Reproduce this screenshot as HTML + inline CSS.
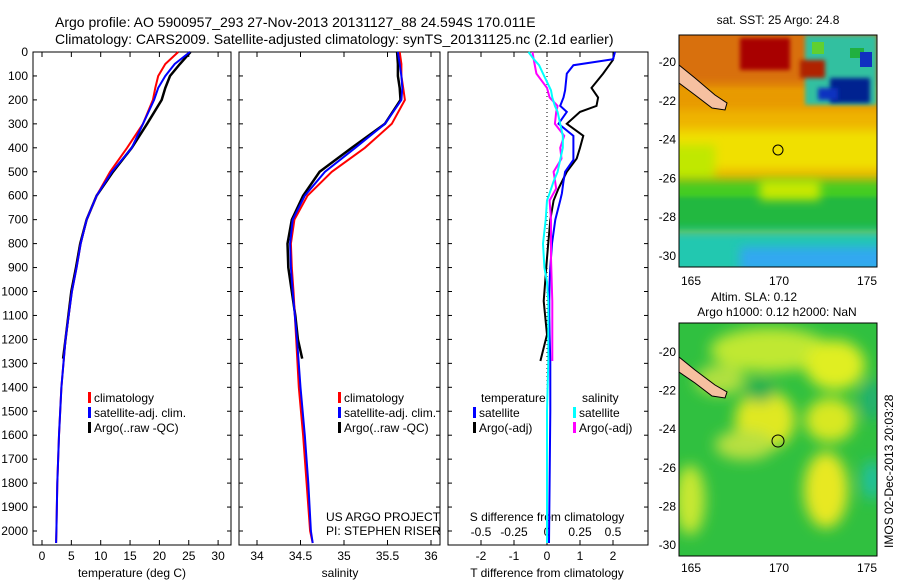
<!DOCTYPE html>
<html><head><meta charset="utf-8"><style>
body{margin:0;background:#fff;}
svg text{font-family:"Liberation Sans",sans-serif;fill:#000;}
</style></head><body>
<svg id="c" width="900" height="580" viewBox="0 0 900 580" xmlns="http://www.w3.org/2000/svg">
<defs>
<filter id="bl" x="-50%" y="-50%" width="200%" height="200%"><feGaussianBlur stdDeviation="7"/></filter>
<filter id="bl2" x="-50%" y="-50%" width="200%" height="200%"><feGaussianBlur stdDeviation="5"/></filter>
<filter id="bl3" x="-50%" y="-50%" width="200%" height="200%"><feGaussianBlur stdDeviation="2"/></filter>
<clipPath id="m1c"><rect x="679" y="35" width="198" height="232"/></clipPath>
<clipPath id="m2c"><rect x="679" y="323" width="198" height="233"/></clipPath>
</defs>
<text x="55" y="27" font-size="14">Argo profile: AO 5900957_293 27-Nov-2013 20131127_88 24.594S 170.011E</text>
<text x="55" y="44" font-size="14">Climatology: CARS2009. Satellite-adjusted climatology: synTS_20131125.nc (2.1d earlier)</text>
<g id="g"></g>

<!-- SST map -->
<g clip-path="url(#m1c)">
<rect x="679" y="35" width="198" height="232" fill="#eeb400"/>
<rect x="660" y="25" width="240" height="65" fill="#d87010" filter="url(#bl3)"/>
<rect x="660" y="85" width="240" height="25" fill="#e89a00" filter="url(#bl2)"/>
<rect x="740" y="38" width="50" height="32" fill="#a80000" filter="url(#bl3)"/>
<rect x="660" y="130" width="240" height="40" fill="#f0e000" filter="url(#bl2)"/>
<rect x="670" y="145" width="45" height="35" fill="#c0e800" filter="url(#bl2)"/>
<rect x="660" y="180" width="240" height="50" fill="#44cc22" filter="url(#bl2)"/>
<rect x="660" y="197" width="240" height="33" fill="#20b840" filter="url(#bl3)"/>
<rect x="760" y="180" width="60" height="20" fill="#c8e800" filter="url(#bl2)"/>
<rect x="660" y="230" width="240" height="45" fill="#22c8b0" filter="url(#bl2)"/>
<rect x="740" y="247" width="150" height="25" fill="#30a8f0" filter="url(#bl2)"/>
<rect x="805" y="35" width="72" height="70" fill="#30c0a0" filter="url(#bl3)"/>
<rect x="812" y="42" width="12" height="12" fill="#60d030"/>
<rect x="850" y="48" width="14" height="10" fill="#20b040"/>
<rect x="830" y="78" width="40" height="25" fill="#002090" filter="url(#bl3)"/>
<rect x="818" y="88" width="20" height="12" fill="#1030c0" filter="url(#bl3)"/>
<rect x="860" y="52" width="12" height="15" fill="#1030c0"/>
<rect x="800" y="60" width="25" height="18" fill="#b02000" filter="url(#bl3)"/>
<path d="M679,65 L695,78 L715,95 L727,103 L725,110 L712,108 L695,95 L679,83 Z" fill="#f6c0a0" stroke="#000" stroke-width="1"/>
<circle cx="778" cy="150" r="5" fill="none" stroke="#000"/>
</g>
<rect x="679" y="35" width="198" height="232" fill="none" stroke="#000"/>
<text x="778" y="24" font-size="12" text-anchor="middle">sat. SST: 25 Argo: 24.8</text>

<!-- SLA map -->
<g clip-path="url(#m2c)">
<rect x="679" y="323" width="198" height="233" fill="#30c040"/>
<g filter="url(#bl)">
<ellipse cx="770" cy="350" rx="60" ry="22" fill="#c0e830"/>
<ellipse cx="835" cy="365" rx="30" ry="25" fill="#e0ee20"/>
<ellipse cx="765" cy="420" rx="30" ry="30" fill="#e0e820"/>
<ellipse cx="830" cy="420" rx="25" ry="22" fill="#d8e820"/>
<ellipse cx="745" cy="445" rx="30" ry="15" fill="#b8e040"/>
<ellipse cx="826" cy="490" rx="22" ry="38" fill="#e8e820"/>
<ellipse cx="690" cy="500" rx="15" ry="35" fill="#c8e830"/>
<ellipse cx="720" cy="380" rx="25" ry="15" fill="#b0e040"/>
<ellipse cx="872" cy="400" rx="12" ry="20" fill="#20b070"/>
<ellipse cx="872" cy="480" rx="10" ry="20" fill="#20c0a0"/>
<ellipse cx="760" cy="390" rx="15" ry="12" fill="#20b050"/>
</g>
<path d="M679,357 L695,370 L715,385 L727,392 L725,398 L712,396 L695,383 L679,372 Z" fill="#f6c0a0" stroke="#000" stroke-width="1"/>
<circle cx="778" cy="441" r="6" fill="none" stroke="#000"/>
</g>
<rect x="679" y="323" width="198" height="233" fill="none" stroke="#000"/>
<text x="754" y="301" font-size="12" text-anchor="middle">Altim. SLA: 0.12</text>
<text x="777" y="316" font-size="12" text-anchor="middle">Argo h1000: 0.12 h2000: NaN</text>
<text transform="translate(893,548) rotate(-90)" font-size="12">IMOS 02-Dec-2013 20:03:28</text>
</svg>
<script>
// depth levels (m)
const depthClim = [0,50,100,150,200,300,400,500,600,700,800,900,1000,1200,1400,1600,1800,2000,2050];
const tempClim  = [23.2,21,19.8,19.3,18.9,17.2,14.5,11.6,9.3,7.6,6.6,5.9,5.1,4.0,3.3,2.9,2.6,2.45,2.4];
const tempSat   = [25.2,22.6,21.0,19.8,19.1,17.2,15.3,11.9,9.3,7.6,6.6,5.9,5.1,4.0,3.3,2.9,2.6,2.45,2.4];
const depthArgo = [0,50,100,150,200,300,400,500,600,700,800,900,1000,1100,1200,1280];
const tempArgo  = [25.3,23.5,21.8,21.0,20.4,17.9,15.3,12.1,9.3,7.6,6.5,5.8,5.0,4.5,4.0,3.6];
const salClim   = [35.64,35.66,35.66,35.68,35.70,35.55,35.24,34.86,34.58,34.43,34.39,34.40,34.42,34.45,34.48,34.53,34.57,34.61,34.64];
const salSat    = [35.62,35.64,35.66,35.67,35.66,35.47,35.13,34.78,34.55,34.41,34.38,34.39,34.41,34.46,34.50,34.55,34.59,34.62,34.64];
const salArgo   = [35.61,35.62,35.62,35.64,35.65,35.47,35.09,34.72,34.53,34.40,34.35,34.36,34.40,34.44,34.47,34.52];
const depthDiff = [0,30,55,90,160,190,225,250,300,350,400,450,500,540,590,620,700,800,900,960,1040,1100,1180,1290,1500,1800,2050];
const tDiffSat  = [2.06,2.0,0.8,0.6,0.55,0.5,0.4,0.6,0.35,0.8,0.8,0.8,0.55,0.5,0.45,0.4,0.25,0.15,0.1,0.08,0.07,0.07,0.08,0.1,0.1,0.08,0.06];
const sDiffSat  = [-0.14,-0.1,-0.06,-0.03,0.03,0.04,0.06,0.08,0.1,0.12,0.12,0.1,0.08,0.05,0.02,0,-0.01,-0.03,-0.02,0,0.01,0.01,0.01,0.01,0.0,0.0,0.0];
const depthDiffA= [0,33,90,150,190,225,250,300,350,400,445,500,570,620,700,860,1040,1180,1290];
const tDiffArgo = [2.05,2.0,1.7,1.35,1.55,1.5,1.0,0.6,1.1,1.0,0.9,0.6,0.35,0.2,0.1,0,-0.1,0,-0.2];
const sDiffArgo = [-0.11,-0.1,-0.08,0,0.02,0.08,0.07,0.06,0.13,0.1,0.11,0.05,0.07,0.02,0.03,0.03,0.04,0.04,0.04];
const depthTicks = [0,100,200,300,400,500,600,700,800,900,1000,1100,1200,1300,1400,1500,1600,1700,1800,1900,2000];
const tTicks = [0,5,10,15,20,25,30];
const sTicks = [34,34.5,35,35.5,36];
const dTicks = [-2,-1,0,1,2];
const dsTicks = ["-0.5","-0.25","0","0.25","0.5"];
const latTicks = [20,22,24,26,28,30];
const lonTicks = [165,170,175];

const NS="http://www.w3.org/2000/svg";
const g=document.getElementById('g');
function mk(tag,at,parent){const e=document.createElementNS(NS,tag);for(const k in at)e.setAttribute(k,at[k]);(parent||g).appendChild(e);return e;}
const yD=d=>52+d*0.2395;
const xT=v=>42+v*5.87;
const xS=v=>257+(v-34)*87;
const xTD=v=>547+v*33;
const xSD=v=>547+v*132;
const BOT=545;

function frame(x0,x1,name){
  const r=mk('rect',{x:x0,y:52,width:x1-x0,height:BOT-52,fill:'none',stroke:'#000'});
  
  
  depthTicks.forEach(d=>{const y=yD(d);mk('line',{x1:x0,x2:x0+4,y1:y,y2:y,stroke:'#000'});mk('line',{x1:x1-4,x2:x1,y1:y,y2:y,stroke:'#000'});});
}
function line(xs,ds,fx,color,name,w){
  const p=xs.map((v,i)=>fx(v).toFixed(1)+','+yD(ds[i]).toFixed(1)).join(' ');
  const e=mk('polyline',{points:p,fill:'none',stroke:color,'stroke-width':w||2});
  
  
}
function txt(x,y,s,size,anchor,name){const t=mk('text',{x:x,y:y,'font-size':size,'text-anchor':anchor||'start'});t.textContent=s;return t;}
function xticks(ticks,fx,labels,name){ticks.forEach((v,i)=>{const x=fx(v);mk('line',{x1:x,x2:x,y1:BOT,y2:BOT-5,stroke:'#000'});mk('line',{x1:x,x2:x,y1:52,y2:57,stroke:'#000'});txt(x,560,labels?labels[i]:String(v),12,'middle',name);});}

// panel 1
frame(33,231,'temperature-panel');
depthTicks.forEach(d=>txt(28,yD(d)+4,String(d),12,'end','depth-tick-label'));
xticks(tTicks,xT,null,'temperature-tick-label');
line(tempArgo,depthArgo,xT,'#000','temp-argo-line',2.5);
line(tempClim,depthClim,xT,'#f00','temp-climatology-line');
line(tempSat,depthClim,xT,'#00f','temp-satellite-line');
txt(132,577,'temperature (deg C)',12,'middle','temperature-axis-title');

// panel 2
frame(239,440,'salinity-panel');
xticks(sTicks,xS,null,'salinity-tick-label');
line(salArgo,depthArgo,xS,'#000','sal-argo-line',2.5);
line(salClim,depthClim,xS,'#f00','sal-climatology-line');
line(salSat,depthClim,xS,'#00f','sal-satellite-line');
txt(340,577,'salinity',12,'middle','salinity-axis-title');
txt(326,521,'US ARGO PROJECT',12,'start','project-label');
txt(326,535,'PI: STEPHEN RISER',12,'start','pi-label');

function legend(x,y,color,label,name){
  const m=mk('rect',{x:x,y:y-10,width:3,height:11,fill:color});
  
  
  txt(x+6,y,label,12,'start',name);
}
[[88,'climatology','#f00'],[88,'satellite-adj. clim.','#00f'],[88,'Argo(..raw -QC)','#000']].forEach((a,i)=>legend(a[0],402+i*15,a[2],a[1],'legend-entry'));
[[338,'climatology','#f00'],[338,'satellite-adj. clim.','#00f'],[338,'Argo(..raw -QC)','#000']].forEach((a,i)=>legend(a[0],402+i*15,a[2],a[1],'legend-entry'));

// panel 3
frame(448,648,'difference-panel');
const z=mk('line',{x1:547,x2:547,y1:52,y2:BOT,stroke:'#000','stroke-dasharray':'1,3'});


xticks(dTicks,xTD,null,'t-diff-tick-label');
dTicks.forEach((v,i)=>txt(xTD(v),536,dsTicks[i],12,'middle','s-diff-tick-label'));
txt(547,521,'S difference from climatology',12,'middle','s-diff-axis-title');
txt(547,577,'T difference from climatology',12,'middle','t-diff-axis-title');
line(tDiffArgo,depthDiffA,xTD,'#000','t-diff-argo-line');
line(tDiffSat,depthDiff,xTD,'#00f','t-diff-satellite-line');
line(sDiffArgo,depthDiffA,xSD,'#f0f','s-diff-argo-line');
line(sDiffSat,depthDiff,xSD,'#0ff','s-diff-satellite-line');
txt(481,402,'temperature',12,'start','legend-temperature-heading');
txt(582,402,'salinity',12,'start','legend-salinity-heading');
legend(473,417,'#00f','satellite','legend-entry');
legend(473,432,'#000','Argo(-adj)','legend-entry');
legend(573,417,'#0ff','satellite','legend-entry');
legend(573,432,'#f0f','Argo(-adj)','legend-entry');

// map axes
function mapAxes(top,lat20y,pxLat,lonY){
  latTicks.forEach(l=>{const y=lat20y+(l-20)*pxLat;mk('line',{x1:679,x2:683,y1:y,y2:y,stroke:'#000'});mk('line',{x1:873,x2:877,y1:y,y2:y,stroke:'#000'});txt(676,y+4,'-'+l,12,'end','lat-tick-label');});
  lonTicks.forEach(l=>{const x=691+(l-165)*17.6;mk('line',{x1:x,x2:x,y1:top,y2:top+4,stroke:'#000'});txt(x,lonY,String(l),12,'middle','lon-tick-label');});
}
mapAxes(35,62,19.4,285);
mapAxes(323,352,19.3,572);
</script>
</body></html>
